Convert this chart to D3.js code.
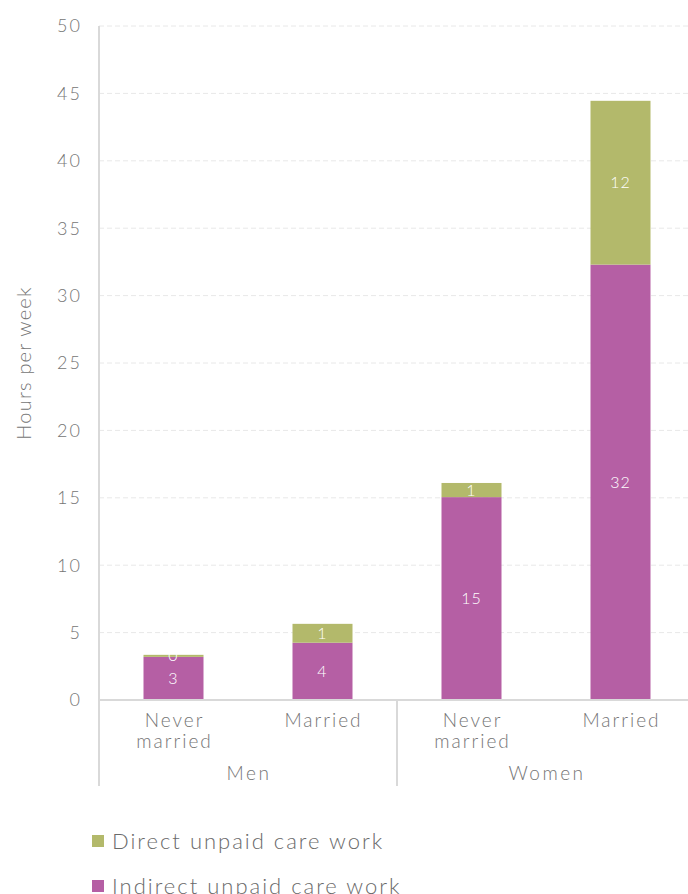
<!DOCTYPE html>
<html>
<head>
<meta charset="utf-8">
<script src="https://cdn.jsdelivr.net/npm/d3@7"></script>
<style>
  body { margin: 0; background: #fff; }
  svg { display: block; font-family: Lato, "Open Sans", sans-serif; font-weight: 300; }
</style>
</head>
<body>
<svg id="chart" width="688" height="894"></svg>
<script>
'use strict';

// Categories and values (hours per week)
var groups = ['Men', 'Women'];
var categories = ['Men|Never married', 'Men|Married', 'Women|Never married', 'Women|Married'];
var indirectValues = [3.2, 4.25, 15.05, 32.3];
var directValues = [0.15, 1.4, 1.05, 12.15];
var indirectLabels = ['3', '4', '15', '32'];
var directLabels = ['0', '1', '1', '12'];
var yTicks = [0, 5, 10, 15, 20, 25, 30, 35, 40, 45, 50];
var seriesNames = ['Direct unpaid care work', 'Indirect unpaid care work'];

var colors = { direct: '#b3b96b', indirect: '#b55fa4' };
var textColor = '#757575';
var axisColor = '#d9d9d9';

var svg = d3.select('#chart');
var margin = { left: 99, top: 26 };
var plotBottom = 700;

var x = d3.scaleBand()
    .domain(categories)
    .range([margin.left, margin.left + 4 * 149]);

var y = d3.scaleLinear()
    .domain([0, 50])
    .range([plotBottom, margin.top]);

var barWidth = 60;

// Grid lines
svg.append('g').selectAll('line')
    .data(yTicks.filter(function(t) { return t > 0; }))
    .enter().append('line')
    .attr('x1', margin.left)
    .attr('x2', 688)
    .attr('y1', function(d) { return y(d); })
    .attr('y2', function(d) { return y(d); })
    .attr('stroke', '#e8e8e8')
    .attr('stroke-width', 1)
    .attr('stroke-dasharray', '5,3');

// Y tick labels
svg.append('g').selectAll('text')
    .data(yTicks)
    .enter().append('text')
    .attr('x', 80)
    .attr('dx', 2)
    .attr('y', function(d) { return y(d); })
    .attr('dy', '0.35em')
    .attr('text-anchor', 'end')
    .attr('fill', textColor)
    .style('font-size', '18px')
    .style('letter-spacing', '2px')
    .text(function(d) { return d; });

// Y title
svg.append('text')
    .attr('transform', 'translate(31,' + y(25) + ') rotate(-90)')
    .attr('text-anchor', 'middle')
    .attr('fill', textColor)
    .style('font-size', '20px')
    .style('letter-spacing', '1.2px')
    .text('Hours per week');

// Stacked bars
var rows = categories.map(function(c, i) {
    return { key: c, indirect: indirectValues[i], direct: directValues[i] };
});
var stack = d3.stack().keys(['indirect', 'direct'])(rows);

var layers = svg.append('g').selectAll('g')
    .data(stack)
    .enter().append('g')
    .attr('fill', function(d) { return colors[d.key]; });

layers.selectAll('rect')
    .data(function(d) { return d; })
    .enter().append('rect')
    .attr('x', function(d) { return x(d.data.key) + x.bandwidth() / 2 - barWidth / 2; })
    .attr('width', barWidth)
    .attr('y', function(d) { return y(d[1]); })
    .attr('height', function(d) { return y(d[0]) - y(d[1]); });

// Data labels
stack.forEach(function(layer) {
    var labels = layer.key === 'indirect' ? indirectLabels : directLabels;
    svg.append('g').selectAll('text')
        .data(layer)
        .enter().append('text')
        .attr('x', function(d) { return x(d.data.key) + x.bandwidth() / 2; })
        .attr('y', function(d) { return y((d[0] + d[1]) / 2); })
        .attr('dy', '0.35em')
        .attr('text-anchor', 'middle')
        .attr('fill', '#ffffff')
        .style('font-size', '16px')
        .style('letter-spacing', '1px')
        .text(function(d, i) { return labels[i]; });
});

// Axis lines
svg.append('line')
    .attr('x1', margin.left).attr('x2', margin.left)
    .attr('y1', margin.top).attr('y2', 786)
    .attr('stroke', axisColor).attr('stroke-width', 2);
svg.append('line')
    .attr('x1', margin.left).attr('x2', 688)
    .attr('y1', plotBottom).attr('y2', plotBottom)
    .attr('stroke', axisColor).attr('stroke-width', 2);
svg.append('line')
    .attr('x1', x(categories[2])).attr('x2', x(categories[2]))
    .attr('y1', plotBottom).attr('y2', 786)
    .attr('stroke', axisColor).attr('stroke-width', 2);

// Category labels (status)
var catLabels = svg.append('g').selectAll('text')
    .data(categories)
    .enter().append('text')
    .attr('x', function(d) { return x(d) + x.bandwidth() / 2 + 1; })
    .attr('y', 727)
    .attr('text-anchor', 'middle')
    .attr('fill', textColor)
    .style('font-size', '19px')
    .style('letter-spacing', '2px');
catLabels.each(function(d) {
    var words = d.split('|')[1] === 'Never married' ? ['Never', 'married'] : ['Married'];
    var t = d3.select(this);
    words.forEach(function(w, i) {
        t.append('tspan')
            .attr('x', t.attr('x'))
            .attr('dy', i === 0 ? 0 : 21)
            .text(w);
    });
});

// Group labels
svg.append('g').selectAll('text')
    .data(groups)
    .enter().append('text')
    .attr('x', function(g, i) {
        return (x(categories[i * 2]) + x(categories[i * 2 + 1]) + x.bandwidth()) / 2 + 1;
    })
    .attr('y', 780)
    .attr('text-anchor', 'middle')
    .attr('fill', textColor)
    .style('font-size', '19px')
    .style('letter-spacing', '2.5px')
    .text(function(d) { return d; });

// Legend
var legend = svg.append('g').selectAll('g')
    .data(seriesNames)
    .enter().append('g')
    .attr('transform', function(d, i) { return 'translate(92,' + (841 + i * 45) + ')'; });
legend.append('rect')
    .attr('x', 0).attr('y', -6)
    .attr('width', 12).attr('height', 12)
    .attr('fill', function(d, i) { return i === 0 ? colors.direct : colors.indirect; });
legend.append('text')
    .attr('x', 20)
    .attr('y', 0)
    .attr('dy', '0.35em')
    .attr('fill', '#6a6a6a')
    .style('font-size', '22px')
    .style('letter-spacing', '2px')
    .text(function(d) { return d; });
</script>
</body>
</html>
